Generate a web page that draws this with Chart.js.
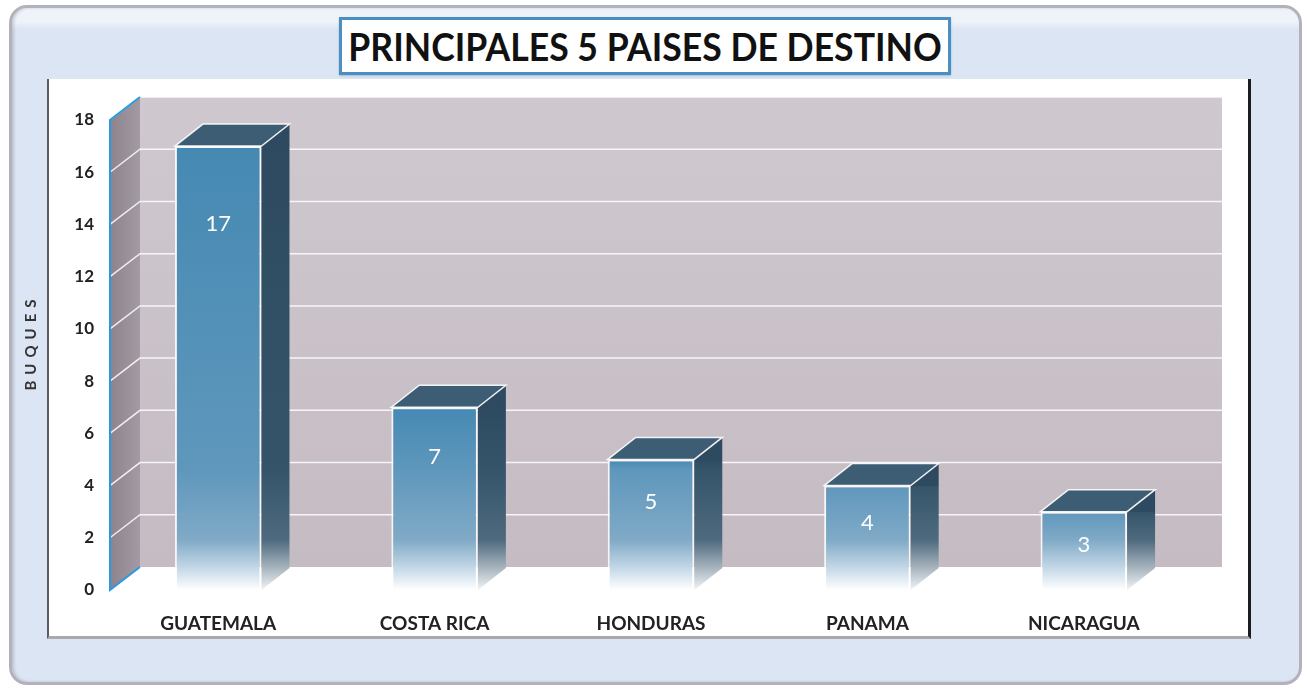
<!DOCTYPE html>
<html>
<head>
<meta charset="utf-8">
<title>Principales 5 paises de destino</title>
<script src="https://cdn.jsdelivr.net/npm/chart.js@4.4.1/dist/chart.umd.min.js"></script>
<style>
	html, body { margin: 0; padding: 0; background: #fff; }
	body { width: 1307px; height: 689px; position: relative; overflow: hidden; font-family: Lato, 'Noto Sans', sans-serif; }
	.frame {
		position: absolute; left: 9px; top: 5px; width: 1287px; height: 674px;
		border: 3px solid #b3b2bb; border-radius: 18px;
		background: linear-gradient(#eef2f9 0, #eef2f9 14px, #dce5f3 22px, #dce5f3 100%);
		box-shadow: inset 2px 0 3px rgba(0, 0, 0, 0.15);
	}
	.panel {
		position: absolute; left: 47px; top: 79px; width: 1199px; height: 557px;
		background: #fff;
		border-left: 2px solid #5b5b60; border-right: 3px solid #1c1c1c; border-bottom: 3px solid #a9a8ae;
	}
	.title {
		position: absolute; left: 339px; top: 17px; width: 606px; height: 52px;
		border: 3px solid #4a8fc3; background: #fff; box-shadow: 0 1px 2px rgba(0, 0, 0, 0.2);
		overflow: hidden;
	}
	.title span {
		position: absolute; left: 50%; top: 0; display: inline-block;
		font: 700 38px Lato, sans-serif; line-height: 52px; color: #111;
		white-space: nowrap; transform-origin: center; transform: translateX(-50%) scaleX(0.84);
	}
	canvas { position: absolute; left: 0; top: 0; }
</style>
</head>
<body>
<div class="frame"></div>
<div class="panel"></div>
<div class="title"><span>PRINCIPALES 5 PAISES DE DESTINO</span></div>
<canvas id="destinos-chart" width="1307" height="689"></canvas>
<script>
const categories = ['GUATEMALA', 'COSTA RICA', 'HONDURAS', 'PANAMA', 'NICARAGUA'];
const buques = [17, 7, 5, 4, 3];
const yTickValues = [0, 2, 4, 6, 8, 10, 12, 14, 16, 18];
const yTitle = 'BUQUES';

// 3d depth of the bars and of the walls
const barDepth = { dx: 28, dy: -22 };
const wallDepth = { dx: 30, dy: -23 };

// squeeze the title so it fits the box like the original
const titleSpan = document.querySelector('.title span');
function fitTitle() {
	const w = titleSpan.offsetWidth;
	if (w) titleSpan.style.transform = 'translateX(-50%) scaleX(' + (594 / w) + ')';
}
fitTitle();
document.fonts.ready.then(fitTitle);

// color stops given as pixels above the base
function verticalGradient(ctx, top, base, stops) {
	const h = Math.max(1, base - top),
		g = ctx.createLinearGradient(0, top, 0, base);
	stops.forEach(([px, color]) => {
		g.addColorStop(Math.min(1, Math.max(0, 1 - px / h)), color);
	});
	return g;
}

const frontStops = [[9999, '#4589b3'], [120, '#5f97bc'], [50, '#80aac7'], [22, '#c4d8e7'], [0, '#ffffff']];
const sideStops = [[9999, '#2d4a60'], [120, '#35546a'], [50, '#4e6a7e'], [20, '#aebac3'], [0, '#f2f4f6']];

const wallsPlugin = {
	id: 'walls',
	beforeDatasetsDraw(chart) {
		const { ctx, chartArea: a, scales: { y } } = chart,
			bx = a.left + wallDepth.dx,
			by = a.top + wallDepth.dy,
			bw = a.right - a.left,
			bh = a.bottom - a.top;

		ctx.save();

		// back wall
		let g = ctx.createLinearGradient(0, by, 0, by + bh);
		g.addColorStop(0, '#d0c8cf');
		g.addColorStop(1, '#c4bbc3');
		ctx.fillStyle = g;
		ctx.fillRect(bx, by, bw, bh);

		// side wall
		g = ctx.createLinearGradient(a.left, 0, bx, 0);
		g.addColorStop(0, '#8c838c');
		g.addColorStop(1, '#a39aa3');
		ctx.fillStyle = g;
		ctx.beginPath();
		ctx.moveTo(a.left, a.bottom);
		ctx.lineTo(a.left, a.top);
		ctx.lineTo(bx, by);
		ctx.lineTo(bx, a.bottom + wallDepth.dy);
		ctx.closePath();
		ctx.fill();

		// grid lines
		ctx.strokeStyle = 'rgba(255,255,255,0.85)';
		ctx.lineWidth = 1.5;
		y.ticks.forEach(t => {
			if (t.value === 0) return;
			const py = y.getPixelForValue(t.value);
			ctx.beginPath();
			ctx.moveTo(a.left, py);
			ctx.lineTo(bx, py + wallDepth.dy);
			ctx.lineTo(bx + bw, py + wallDepth.dy);
			ctx.stroke();
		});

		// blue edge of the side wall
		ctx.strokeStyle = '#2a9ae0';
		ctx.lineWidth = 2;
		ctx.beginPath();
		ctx.moveTo(bx, a.bottom + wallDepth.dy);
		ctx.lineTo(a.left, a.bottom);
		ctx.lineTo(a.left, a.top);
		ctx.lineTo(bx, by);
		ctx.stroke();

		ctx.restore();
	},
	afterDatasetsDraw(chart) {
		const { ctx } = chart,
			meta = chart.getDatasetMeta(0),
			{ dx, dy } = barDepth;

		ctx.save();
		meta.data.forEach(bar => {
			const { x, y: top, width, base } = bar.getProps(['x', 'y', 'width', 'base'], true),
				l = x - width / 2,
				r = x + width / 2;

			// side face
			ctx.fillStyle = verticalGradient(ctx, top, base, sideStops);
			ctx.beginPath();
			ctx.moveTo(r, top);
			ctx.lineTo(r + dx, top + dy);
			ctx.lineTo(r + dx, base + dy);
			ctx.lineTo(r, base);
			ctx.closePath();
			ctx.fill();

			// top face
			ctx.fillStyle = '#3d5d75';
			ctx.strokeStyle = 'rgba(255,255,255,0.9)';
			ctx.lineWidth = 1.5;
			ctx.beginPath();
			ctx.moveTo(l, top);
			ctx.lineTo(l + dx, top + dy);
			ctx.lineTo(r + dx, top + dy);
			ctx.lineTo(r, top);
			ctx.closePath();
			ctx.fill();
			ctx.stroke();
		});

		// value labels
		ctx.fillStyle = '#ffffff';
		ctx.font = '400 22px Lato, sans-serif';
		ctx.textAlign = 'center';
		ctx.textBaseline = 'middle';
		meta.data.forEach((bar, i) => {
			const { x, y: top, base } = bar.getProps(['x', 'y', 'base'], true);
			ctx.fillText(String(buques[i]), x, top + 3.7 * Math.sqrt(base - top));
		});

		// y axis title
		const y = chart.scales.y;
		ctx.translate(31, (y.top + y.bottom) / 2 - 10);
		ctx.rotate(-Math.PI / 2);
		ctx.letterSpacing = '6px';
		ctx.fillStyle = '#333333';
		ctx.font = '700 15px Lato, sans-serif';
		ctx.fillText(yTitle, 3, 0);
		ctx.restore();
	}
};

new Chart(document.getElementById('destinos-chart'), {
	type: 'bar',
	data: {
		labels: categories,
		datasets: [{
			data: buques,
			backgroundColor: context => {
				const chart = context.chart;
				if (!chart.chartArea) return '#4589b3';
				const y = chart.scales.y;
				return verticalGradient(chart.ctx, y.getPixelForValue(context.raw), y.getPixelForValue(0), frontStops);
			},
			borderColor: 'rgba(255,255,255,0.85)',
			borderWidth: { top: 2, left: 2, right: 2, bottom: 0 },
			barPercentage: 0.4,
			categoryPercentage: 1
		}]
	},
	options: {
		responsive: false,
		animation: false,
		layout: { padding: { left: 20, top: 120, right: 115, bottom: 0 } },
		plugins: {
			legend: { display: false },
			tooltip: { enabled: false }
		},
		scales: {
			x: {
				grid: { display: false, drawTicks: false },
				border: { display: false },
				ticks: {
					color: '#222',
					font: { family: 'Lato', weight: '700', size: 19 },
					padding: 22,
					maxRotation: 0,
					autoSkip: false
				},
				afterFit: scale => { scale.height = 99; }
			},
			y: {
				min: 0,
				max: 18,
				grid: { display: false, drawTicks: false },
				border: { display: false },
				ticks: {
					color: '#222',
					font: { family: 'Lato', weight: '700', size: 17 },
					padding: 16
				},
				afterBuildTicks: scale => { scale.ticks = yTickValues.map(value => ({ value })); },
				afterFit: scale => { scale.width = 90; }
			}
		}
	},
	plugins: [wallsPlugin]
});
</script>
</body>
</html>
